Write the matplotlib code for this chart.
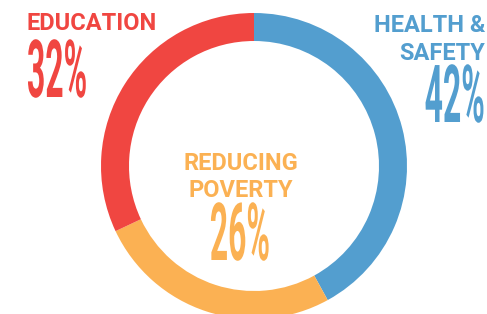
import matplotlib
matplotlib.use("Agg")
import matplotlib.pyplot as plt
from matplotlib.patheffects import AbstractPathEffect
from matplotlib.transforms import Affine2D

# data
categories = ["HEALTH &\nSAFETY", "REDUCING\nPOVERTY", "EDUCATION"]
shares = [42, 26, 32]
colors = ["#539ECF", "#FBB153", "#F04641"]

W, H = 487, 314


class Stretch(AbstractPathEffect):
    """Draw text glyphs narrow and tall (condensed display look)."""

    def __init__(self, sx, sy, anchor="center"):
        super().__init__()
        self.sx = sx
        self.sy = sy
        self.anchor = anchor

    def draw_path(self, renderer, gc, tpath, affine, rgbFace=None):
        xs = affine.transform(tpath.vertices)[:, 0]
        base_y = affine.transform([[0.0, 0.0]])[0, 1]
        if self.anchor == "left":
            x0 = xs.min()
        elif self.anchor == "right":
            x0 = xs.max()
        else:
            x0 = (xs.min() + xs.max()) / 2
        stretch = (Affine2D().translate(-x0, -base_y)
                   .scale(self.sx, self.sy).translate(x0, base_y))
        renderer.draw_path(gc, tpath, affine + stretch, rgbFace)


fig = plt.figure(figsize=(W / 100, H / 100), dpi=100)
ax = fig.add_axes([0, 0, 1, 1])

ax.pie(shares, colors=colors, startangle=90, counterclock=False,
       center=(254, H - 166), radius=153, frame=True,
       wedgeprops=dict(width=28, linewidth=0))
ax.set_xlim(0, W)
ax.set_ylim(0, H)
ax.set_aspect("equal")
ax.axis("off")

label_font = dict(family="Roboto", fontweight="bold", fontsize=17)
pct_font = dict(family="Roboto", fontweight="bold", fontsize=28)
sx, sy = 0.82, 2.06

# Education (top left)
ax.text(27, H - 30, "EDUCATION", color=colors[2], ha="left", va="baseline", **label_font)
ax.text(27, H - 97, f"{shares[2]}%", color=colors[2], ha="left", va="baseline",
        path_effects=[Stretch(sx, sy, "left")], **pct_font)

# Health & Safety (top right)
ax.text(485, H - 32, "HEALTH &", color=colors[0], ha="right", va="baseline", **label_font)
ax.text(485, H - 60, "SAFETY", color=colors[0], ha="right", va="baseline", **label_font)
ax.text(485, H - 122, f"{shares[0]}%", color=colors[0], ha="right", va="baseline",
        path_effects=[Stretch(sx, sy, "right")], **pct_font)

# Reducing poverty (centre)
ax.text(241, H - 170, "REDUCING", color=colors[1], ha="center", va="baseline", **label_font)
ax.text(241, H - 197, "POVERTY", color=colors[1], ha="center", va="baseline", **label_font)
ax.text(240, H - 260, f"{shares[1]}%", color=colors[1], ha="center", va="baseline",
        path_effects=[Stretch(sx, sy, "center")], **pct_font)

fig.savefig("out.png", dpi=100)
